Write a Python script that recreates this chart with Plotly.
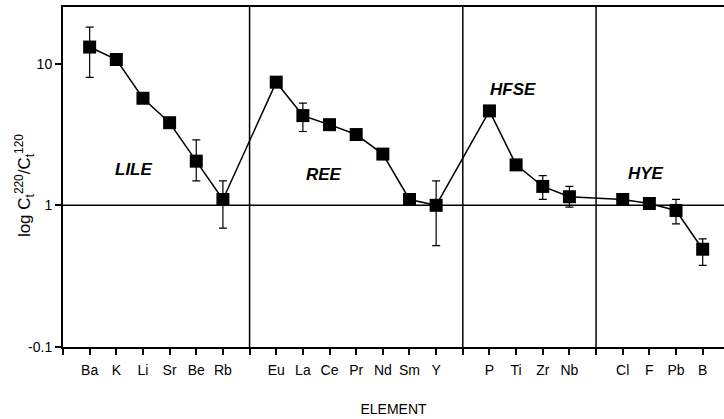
import plotly.graph_objects as go
import math

groups = [
    ("LILE", ["Ba", "K", "Li", "Sr", "Be", "Rb"]),
    ("REE", ["Eu", "La", "Ce", "Pr", "Nd", "Sm", "Y"]),
    ("HFSE", ["P", "Ti", "Zr", "Nb"]),
    ("HYE", ["Cl", "F", "Pb", "B"]),
]
values = [13.1, 10.7, 5.7, 3.83, 2.05, 1.10,
          7.4, 4.3, 3.71, 3.16, 2.30, 1.10, 1.0,
          4.64, 1.93, 1.36, 1.15,
          1.10, 1.03, 0.92, 0.49]
err_hi = [18.1, None, None, None, 2.9, 1.49,
          None, 5.27, None, None, None, None, 1.49,
          None, None, 1.62, 1.36,
          None, None, 1.10, 0.58]
err_lo = [8.0, None, None, None, 1.49, 0.69,
          None, 3.32, None, None, None, None, 0.52,
          None, None, 1.10, 0.97,
          None, None, 0.74, 0.377]
label_pos = {"LILE": (2.66, 1.78), "REE": (9.78, 1.64), "HFSE": (16.9, 6.6), "HYE": (21.87, 1.69)}

# build positions: one slot per element, one blank slot between groups
xs, names, dividers = [], [], []
pos = 0
for gi, (g, els) in enumerate(groups):
    for e in els:
        pos += 1
        xs.append(pos)
        names.append(e)
    if gi < len(groups) - 1:
        pos += 1
        dividers.append(pos)

plus = [None if h is None else h - v for h, v in zip(err_hi, values)]
minus = [None if l is None else v - l for l, v in zip(err_lo, values)]

font = "Liberation Sans, Arial, Helvetica, sans-serif"
fig = go.Figure()
fig.add_trace(go.Scatter(
    x=xs, y=values, mode="lines+markers",
    line=dict(color="black", width=1.5),
    marker=dict(symbol="square", size=13, color="black"),
    error_y=dict(type="data", symmetric=False, array=plus, arrayminus=minus,
                 color="black", thickness=1.2, width=4),
    showlegend=False,
))

for d in dividers:
    fig.add_shape(type="line", xref="x", yref="paper", x0=d, x1=d, y0=0, y1=1,
                  line=dict(color="black", width=1.5))
fig.add_shape(type="line", xref="paper", yref="y", x0=0, x1=1, y0=1, y1=1,
              line=dict(color="black", width=1.5))

for g, (gx, gy) in label_pos.items():
    fig.add_annotation(x=gx, y=math.log10(gy), text="<b><i>%s</i></b>" % g,
                       showarrow=False, font=dict(family=font, size=17, color="black"))

# y-axis title as rotated annotation
fig.add_annotation(xref="paper", yref="paper", x=-0.081, y=0.476,
                   text="log C<sub>t</sub><sup>220</sup>/C<sub>t</sub><sup>120</sup>",
                   textangle=-90, showarrow=False,
                   font=dict(family=font, size=17, color="black"))

tickvals = [0] + xs + dividers
ticktext = [""] + names + [""] * len(dividers)

fig.update_layout(
    width=724, height=419,
    margin=dict(l=63, r=0, t=7, b=72),
    paper_bgcolor="white", plot_bgcolor="white",
    font=dict(family=font, color="black", size=14),
    xaxis=dict(range=[0, 24.8], tickvals=tickvals, ticktext=ticktext,
               ticks="outside", ticklen=6, tickwidth=1.5, tickcolor="black",
               showline=True, linecolor="black", linewidth=2, mirror=True,
               showgrid=False, zeroline=False,
               tickfont=dict(size=14), ticklabelstandoff=3,
               title=dict(text="ELEMENT", font=dict(size=14), standoff=27)),
    yaxis=dict(type="log", range=[-1, 1.4], tickvals=[0.1, 1, 10],
               ticktext=["-0.1", "1", "10"],
               ticks="outside", ticklen=6, tickwidth=1.5, tickcolor="black",
               showline=True, linecolor="black", linewidth=2,
               showgrid=False, zeroline=False,
               tickfont=dict(size=14)),
)

fig.write_html("out.html")
